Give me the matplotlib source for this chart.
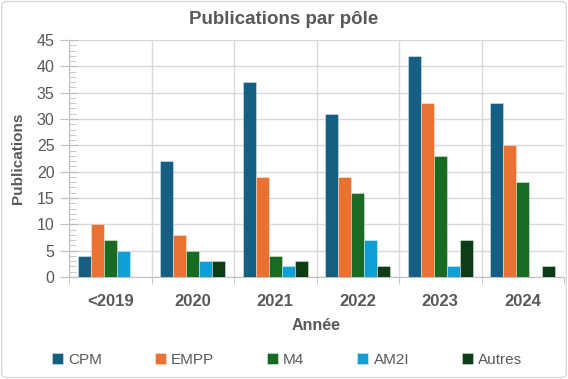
import matplotlib
matplotlib.use("Agg")
import matplotlib.pyplot as plt
import numpy as np
from matplotlib.patches import FancyBboxPatch
from matplotlib.ticker import MultipleLocator

plt.rcParams['font.family'] = ['Liberation Sans', 'DejaVu Sans']

categories = ["<2019", "2020", "2021", "2022", "2023", "2024"]
series_names = ["CPM", "EMPP", "M4", "AM2I", "Autres"]
cpm = [4, 22, 37, 31, 42, 33]
empp = [10, 8, 19, 19, 33, 25]
m4 = [7, 5, 4, 16, 23, 18]
am2i = [5, 3, 2, 7, 2, 0]
autres = [0, 3, 3, 2, 7, 2]
values = [cpm, empp, m4, am2i, autres]
colors = ["#156082", "#E97132", "#196B24", "#0F9ED5", "#0C3D16"]

GREY = "#595959"
fig = plt.figure(figsize=(5.68, 3.79), dpi=100)
ax = fig.add_axes([69/568, 1-277/379, (564-69)/568, (277-40)/379])

x = np.arange(len(categories))
w = 0.1576
for i, (name, vals, c) in enumerate(zip(series_names, values, colors)):
    ax.bar(x + (i - 2) * w, vals, width=w, color=c, label=name,
           edgecolor=(1, 1, 1, 0.45), linewidth=0.6, zorder=3)

ax.set_xlim(-0.5, len(categories) - 0.5)
ax.set_ylim(0, 45)
ax.yaxis.set_major_locator(MultipleLocator(5))
ax.yaxis.set_minor_locator(MultipleLocator(1))
ax.set_xticks(x)
ax.set_xticklabels(categories, fontweight="bold", fontsize=12, color=GREY)
ax.set_xticks(np.arange(-0.5, len(categories)), minor=True)
ax.tick_params(axis="x", which="major", length=0, pad=12)
ax.tick_params(axis="x", which="minor", length=5, color="#BFBFBF", direction="out")
ax.tick_params(axis="y", which="major", length=13, color="#BFBFBF", direction="inout",
               labelsize=11.5, labelcolor=GREY, pad=4)
ax.tick_params(axis="y", which="minor", length=5, color="#BFBFBF", direction="in")

ax.grid(axis="y", which="major", color="#D9D9D9", linewidth=1, zorder=0)
ax.grid(axis="x", which="minor", color="#D9D9D9", linewidth=1, zorder=0)
for s in ["top", "right"]:
    ax.spines[s].set_visible(False)
ax.spines["left"].set_color("#BFBFBF")
ax.spines["bottom"].set_color("#BFBFBF")

ax.set_xlabel("Année", fontweight="bold", fontsize=11.5, color=GREY, labelpad=7)
ax.set_ylabel("Publications", fontweight="bold", fontsize=11, color=GREY, labelpad=8)
fig.text(0.5, 1-19/379, "Publications par pôle", ha="center", va="center",
         fontsize=13.5, fontweight="bold", color=GREY)

handles, labels = ax.get_legend_handles_labels()
fig.legend(handles, labels, loc="center", bbox_to_anchor=(287/568, 1-360/379), ncol=5,
           frameon=False, fontsize=11, labelcolor=GREY, handlelength=0.72, handleheight=0.72,
           columnspacing=3.45, handletextpad=0.35, borderpad=0, borderaxespad=0)

border = FancyBboxPatch((0.003, 0.004), 0.994, 0.992, boxstyle="round,pad=0,rounding_size=0.01",
                        transform=fig.transFigure, fill=False, edgecolor="#D9D9D9", linewidth=1)
fig.patches.append(border)

fig.savefig("out.png", dpi=100)
